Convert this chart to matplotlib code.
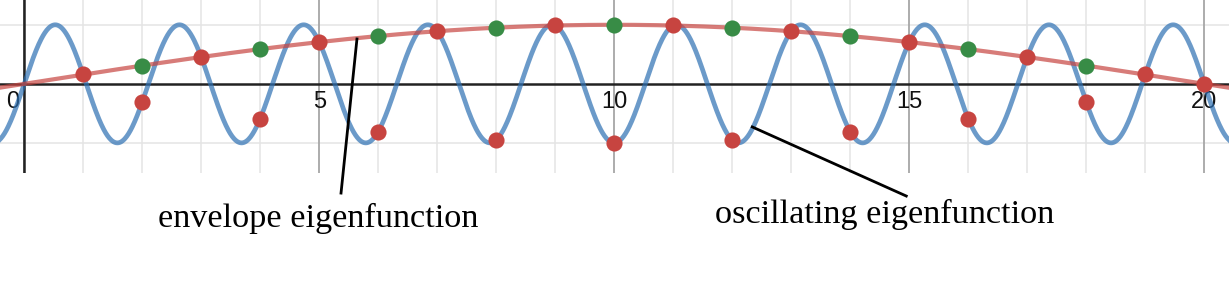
import numpy as np
import matplotlib.pyplot as plt

# domain and modes of the two eigenfunctions
length = 20
env_mode = 1
osc_mode = 19

# sample points (integers) and values
x_nodes = list(range(1, 21))
osc_samples = [0.16, -0.31, 0.45, -0.59, 0.71, -0.81, 0.89, -0.95, 0.99, -1.00,
               0.99, -0.95, 0.89, -0.81, 0.71, -0.59, 0.45, -0.31, 0.16, 0.00]
env_x = [2, 4, 6, 8, 10, 12, 14, 16, 18]
env_samples = [0.31, 0.59, 0.81, 0.95, 1.00, 0.95, 0.81, 0.59, 0.31]

tick_vals = [0, 5, 10, 15, 20]
tick_labels = ["0", "5", "10", "15", "20"]

fig = plt.figure(figsize=(12.29, 2.83), dpi=100)
ax = fig.add_axes([0, 1 - 173 / 283, 1, 173 / 283])
ax.set_xlim(-0.41, 20.42)
ax.set_ylim(-1.51, 1.42)
ax.axis('off')

# grid
for gx in range(0, 21):
    if gx % 5 == 0:
        ax.axvline(gx, color='#a6a6a6', lw=1.3, zorder=1)
    else:
        ax.axvline(gx, color='#e4e4e4', lw=1.1, zorder=0)
for gy in [-1, 1]:
    ax.axhline(gy, color='#e4e4e4', lw=1.1, zorder=0)
ax.axhline(0, color='#222222', lw=1.8, zorder=2)
ax.axvline(0, color='#222222', lw=1.8, zorder=2)

for v, lab in zip(tick_vals, tick_labels):
    xx = -0.2 if v == 0 else v
    ax.text(xx, -0.31, lab, ha='center', va='center', fontsize=17,
            family='Liberation Sans', color='#111111', zorder=3)

# curves
xs = np.linspace(-0.5, 20.5, 2000)
osc = np.sin(osc_mode * np.pi * xs / length)
env = np.sin(env_mode * np.pi * xs / length)
ax.plot(xs, osc, color='#2d70b3', alpha=0.7, lw=3.4, zorder=4)
ax.plot(xs, env, color='#c74440', alpha=0.7, lw=3.0, zorder=5)

ax.scatter(env_x, env_samples, s=135, color='#388c46', zorder=6, lw=0)
ax.scatter(x_nodes, osc_samples, s=135, color='#c74440', zorder=7, lw=0)

# annotation pointers
ax.plot([5.64, 5.37], [0.76, -1.85], color='black', lw=2, clip_on=False, zorder=8)
ax.plot([12.34, 14.95], [-0.73, -1.90], color='black', lw=2, clip_on=False, zorder=8)

fig.text(158 / 1229, 56 / 283, "envelope eigenfunction", ha='left', va='baseline',
         fontsize=24.7, family='Liberation Serif')
fig.text(715 / 1229, 60 / 283, "oscillating eigenfunction", ha='left', va='baseline',
         fontsize=24.7, family='Liberation Serif')

fig.savefig('out.png', dpi=100, facecolor='white')
